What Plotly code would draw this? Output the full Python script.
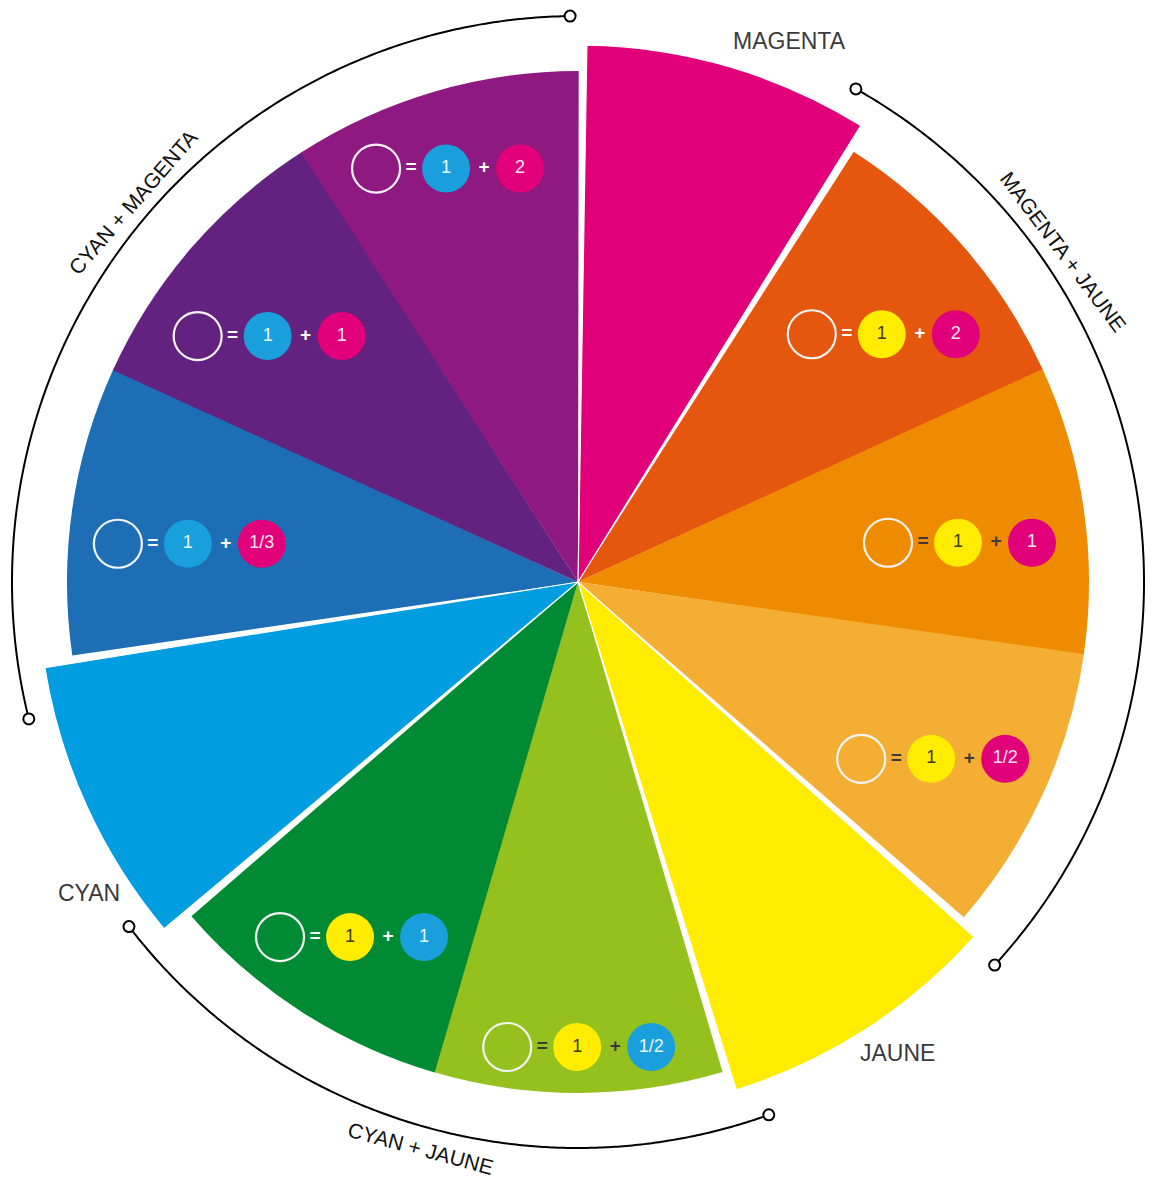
import numpy as np
import plotly.graph_objects as go

# ---------------- data ----------------
segment_names = ["MAGENTA", "MAGENTA 1 + JAUNE 2", "MAGENTA 1 + JAUNE 1", "MAGENTA 1/2 + JAUNE 1",
                 "JAUNE", "CYAN 1/2 + JAUNE 1", "CYAN 1 + JAUNE 1", "CYAN",
                 "CYAN 1 + MAGENTA 1/3", "CYAN 1 + MAGENTA 1", "CYAN 1 + MAGENTA 2"]
segment_colors = ["#E2007A", "#E5570E", "#EF8B00", "#F4AE33", "#FFEC00", "#95C11F",
                  "#008A34", "#009EE0", "#1D6EB5", "#63227F", "#8E1980"]
segment_primary = [True, False, False, False, True, False, False, True, False, False, False]
segment_radius = [537, 511, 511, 511, 532, 511, 511, 540, 511, 511, 511]

# formulas: wedge index, first ink, first amount, second ink, second amount
formula_wedge = [1, 2, 3, 5, 6, 8, 9, 10]
formula_ink1 = ["JAUNE", "JAUNE", "JAUNE", "JAUNE", "JAUNE", "CYAN", "CYAN", "CYAN"]
formula_amt1 = ["1", "1", "1", "1", "1", "1", "1", "1"]
formula_ink2 = ["MAGENTA", "MAGENTA", "MAGENTA", "CYAN", "CYAN", "MAGENTA", "MAGENTA", "MAGENTA"]
formula_amt2 = ["2", "1", "1/2", "1/2", "1", "1/3", "1", "2"]

# outer brackets
arc_labels = ["CYAN + MAGENTA", "MAGENTA + JAUNE", "CYAN + JAUNE"]
arc_start = [256.0, 29.4, 160.3]
arc_end = [359.2, 132.6, 232.5]

primary_labels = ["MAGENTA", "JAUNE", "CYAN"]

# ---------------- styles / layout positions ----------------
W, H = 1154, 1179
OFF = 8                    # default page margin of the html body
CX, CY = 578 - OFF, 582 - OFF   # wheel centre in figure pixels
RMAX = 570                 # radial range -> 1 unit = 1 px
ink_colors = {"CYAN": "#1A9FDD", "MAGENTA": "#E2007A", "JAUNE": "#FFEC00"}
ink_text = {"CYAN": "#E8F7FF", "MAGENTA": "#FBE3F0", "JAUNE": "#3B3B1E"}
op_dark = {2, 3, 5}        # wedges where "=" and "+" are dark
formula_r = [392, 382, 395, 465, 422, 392, 396, 434]
formula_theta = [50.8, 84.1, 116.6, 180.1, 212.7, 275.6, 308.4, 342.3]
offsets = {"open": -70, "eq": -35, "c1": 0, "plus": 38, "c2": 74}

n = len(segment_names)
step = 360.0 / n
mids = [(i + 0.5) * step for i in range(n)]

fig = go.Figure()

# secondaries
sec = [i for i in range(n) if not segment_primary[i]]
fig.add_trace(go.Barpolar(
    r=[segment_radius[i] for i in sec], theta=[mids[i] for i in sec],
    width=[step + 0.15] * len(sec),
    marker=dict(color=[segment_colors[i] for i in sec], line=dict(width=0)),
    hovertext=[segment_names[i] for i in sec], hoverinfo="text", showlegend=False))
# primaries (slightly narrower -> white tapering gaps)
pri = [i for i in range(n) if segment_primary[i]]
fig.add_trace(go.Barpolar(
    r=[segment_radius[i] for i in pri], theta=[mids[i] for i in pri],
    width=[step - 1.9] * len(pri),
    marker=dict(color=[segment_colors[i] for i in pri], line=dict(width=1.2, color="white")),
    hovertext=[segment_names[i] for i in pri], hoverinfo="text", showlegend=False))


def to_polar(x, y):
    r = np.hypot(x, y)
    th = np.degrees(np.arctan2(x, y)) % 360
    return r, th


open_pts, eq_pts, plus_pts, c1_pts, c2_pts = [], [], [], [], []
op_cols = []
for k, w in enumerate(formula_wedge):
    t = np.radians(formula_theta[k])
    ax, ay = formula_r[k] * np.sin(t), formula_r[k] * np.cos(t)
    open_pts.append(to_polar(ax + offsets["open"], ay))
    eq_pts.append(to_polar(ax + offsets["eq"], ay))
    plus_pts.append(to_polar(ax + offsets["plus"], ay))
    c1_pts.append(to_polar(ax + offsets["c1"], ay))
    c2_pts.append(to_polar(ax + offsets["c2"], ay))
    op_cols.append("#3A3A3A" if w in op_dark else "#FFFFFF")

FONT = "Liberation Sans, Arial, sans-serif"

fig.add_trace(go.Scatterpolar(
    r=[p[0] for p in open_pts], theta=[p[1] for p in open_pts], mode="markers",
    marker=dict(symbol="circle-open", size=48, color="#F4F4F4", line=dict(width=2.2)),
    hoverinfo="skip", showlegend=False, cliponaxis=False))

for pts, inks, amts in [(c1_pts, formula_ink1, formula_amt1), (c2_pts, formula_ink2, formula_amt2)]:
    fig.add_trace(go.Scatterpolar(
        r=[p[0] for p in pts], theta=[p[1] for p in pts], mode="markers+text",
        marker=dict(symbol="circle", size=48, color=[ink_colors[c] for c in inks], line=dict(width=0)),
        text=amts, textposition="middle center",
        textfont=dict(family=FONT, size=18, color=[ink_text[c] for c in inks]),
        hoverinfo="skip", showlegend=False, cliponaxis=False))

for pts, sym in [(eq_pts, "<b>=</b>"), (plus_pts, "<b>+</b>")]:
    fig.add_trace(go.Scatterpolar(
        r=[p[0] for p in pts], theta=[p[1] for p in pts], mode="text",
        text=[sym] * len(pts), textposition="middle center",
        textfont=dict(family=FONT, size=19, color=op_cols),
        hoverinfo="skip", showlegend=False, cliponaxis=False))

# outer brackets
R_ARC = 566
for a0, a1 in zip(arc_start, arc_end):
    th = np.linspace(a0, a1, 240)
    fig.add_trace(go.Scatterpolar(
        r=[R_ARC] * len(th), theta=th, mode="lines",
        line=dict(color="#000000", width=2), hoverinfo="skip", showlegend=False, cliponaxis=False))
    fig.add_trace(go.Scatterpolar(
        r=[R_ARC, R_ARC], theta=[a0, a1], mode="markers",
        marker=dict(symbol="circle", size=11, color="white", line=dict(color="#000000", width=2)),
        hoverinfo="skip", showlegend=False, cliponaxis=False))

fig.update_layout(
    width=W, height=H, margin=dict(l=0, r=0, t=0, b=0),
    paper_bgcolor="white", plot_bgcolor="white",
    polar=dict(
        domain=dict(x=[(CX - RMAX) / W, (CX + RMAX) / W],
                    y=[(H - CY - RMAX) / H, (H - CY + RMAX) / H]),
        bgcolor="white", barmode="overlay",
        radialaxis=dict(range=[0, RMAX], visible=False, showgrid=False),
        angularaxis=dict(rotation=90, direction="clockwise", visible=False, showgrid=False),
    ),
)

# labels (reference page pixel positions)
label_pos = {"MAGENTA": (789, 41), "JAUNE": (897, 1053), "CYAN": (89, 893)}
for lab in primary_labels:
    x, y = label_pos[lab]
    fig.add_annotation(x=(x - OFF) / W, y=1 - (y - OFF) / H, xref="paper", yref="paper", text=lab,
                       xanchor="center", yanchor="middle",
                       showarrow=False, font=dict(family=FONT, size=23, color="#3A3A3A"))

arc_label_pos = [(133, 203, -49), (1063, 252, 53), (421, 1148, 15)]
for lab, (x, y, ang) in zip(arc_labels, arc_label_pos):
    fig.add_annotation(x=(x - OFF) / W, y=1 - (y - OFF) / H, xref="paper", yref="paper", text=lab,
                       xanchor="center", yanchor="middle",
                       textangle=ang, showarrow=False,
                       font=dict(family=FONT, size=21, color="#111111"))

fig.write_html("out.html")
